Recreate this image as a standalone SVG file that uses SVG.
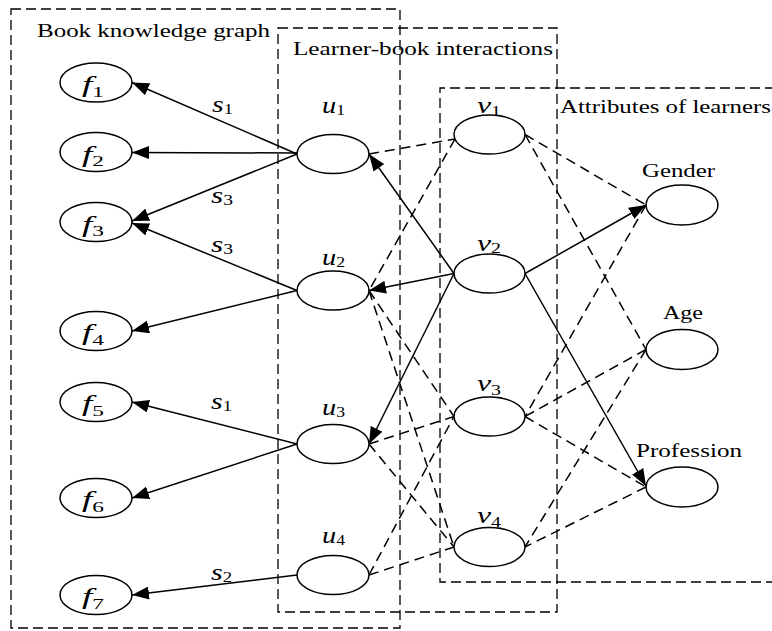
<svg xmlns="http://www.w3.org/2000/svg" width="772" height="631" viewBox="0 0 772 631">
<defs>
<marker id="ah" markerUnits="userSpaceOnUse" markerWidth="17" markerHeight="13" viewBox="0 0 17 13" refX="17" refY="6.5" orient="auto">
<path d="M0,0 L17,6.5 L0,13 z" fill="#000"/>
</marker>
<style>
.box{fill:none;stroke:#000;stroke-width:1.3;stroke-dasharray:10 5}
.node ellipse{fill:#fff;stroke:#000;stroke-width:1.5}
.e{fill:none;stroke:#000;stroke-width:1.5}
.s{marker-end:url(#ah)}
.d{stroke-dasharray:10 6}
.t{font-family:"Liberation Serif","Times New Roman",serif;font-size:19px;fill:#000}
.i{font-family:"Liberation Serif","Times New Roman",serif;font-style:italic;font-size:24px;fill:#000}
.sub{font-style:normal;font-size:15px}
</style>
</defs>
<rect width="772" height="631" fill="#fff"/>

<g id="containers">
<rect class="box" x="11" y="9" width="389" height="619"/>
<rect class="box" x="278" y="28" width="279" height="584"/>
<path class="box" d="M790,88 H440 V582 H790"/>
<text class="t" x="37" y="37" textLength="233" lengthAdjust="spacingAndGlyphs">Book knowledge graph</text>
<text class="t" x="293" y="55" textLength="260" lengthAdjust="spacingAndGlyphs">Learner-book interactions</text>
<text class="t" x="560" y="113" textLength="211" lengthAdjust="spacingAndGlyphs">Attributes of learners</text>
</g>

<g id="connectors">
<line class="e s" x1="297" y1="154" x2="132" y2="82.5"/>
<line class="e s" x1="297" y1="153" x2="132" y2="152.5"/>
<line class="e s" x1="297" y1="154" x2="132" y2="221"/>
<line class="e s" x1="297" y1="290.5" x2="132" y2="223"/>
<line class="e s" x1="297" y1="290.5" x2="132" y2="331"/>
<line class="e s" x1="297" y1="444" x2="132" y2="402"/>
<line class="e s" x1="297" y1="444" x2="132" y2="498"/>
<line class="e s" x1="297" y1="575" x2="132" y2="595"/>
<line class="e s" x1="454" y1="273.5" x2="369" y2="154"/>
<line class="e s" x1="454" y1="273.5" x2="369" y2="290.5"/>
<line class="e s" x1="454" y1="273.5" x2="369" y2="444"/>
<line class="e s" x1="525" y1="273.5" x2="646" y2="205"/>
<line class="e s" x1="525" y1="273.5" x2="646" y2="486"/>
<line class="e d" x1="369" y1="154" x2="455" y2="139"/>
<line class="e d" x1="455" y1="139" x2="369" y2="290.5"/>
<line class="e d" x1="369" y1="290.5" x2="454" y2="416.5"/>
<line class="e d" x1="369" y1="290.5" x2="454" y2="547"/>
<line class="e d" x1="369" y1="444" x2="454" y2="416.5"/>
<line class="e d" x1="369" y1="444" x2="454" y2="547"/>
<line class="e d" x1="369" y1="575" x2="454" y2="416.5"/>
<line class="e d" x1="369" y1="575" x2="454" y2="547"/>
<line class="e d" x1="525" y1="134.5" x2="646" y2="205"/>
<line class="e d" x1="525" y1="134.5" x2="646" y2="349.5"/>
<line class="e d" x1="646" y1="205" x2="525" y2="416.5"/>
<line class="e d" x1="646" y1="349.5" x2="525" y2="416.5"/>
<line class="e d" x1="646" y1="349.5" x2="525" y2="547"/>
<line class="e d" x1="525" y1="416.5" x2="646" y2="487"/>
<line class="e d" x1="646" y1="487" x2="525" y2="547"/>
<text class="i" x="212" y="112" textLength="21" lengthAdjust="spacingAndGlyphs">s<tspan class="sub" dy="2">1</tspan></text>
<text class="i" x="211" y="203" textLength="22" lengthAdjust="spacingAndGlyphs">s<tspan class="sub" dy="2">3</tspan></text>
<text class="i" x="211" y="252" textLength="22" lengthAdjust="spacingAndGlyphs">s<tspan class="sub" dy="2">3</tspan></text>
<text class="i" x="211" y="409" textLength="21" lengthAdjust="spacingAndGlyphs">s<tspan class="sub" dy="2">1</tspan></text>
<text class="i" x="211" y="580" textLength="21" lengthAdjust="spacingAndGlyphs">s<tspan class="sub" dy="2">2</tspan></text>
</g>

<g id="f1" class="node"><ellipse cx="96" cy="82.5" rx="36" ry="19.5"/><text class="i" x="82" y="92" textLength="22" lengthAdjust="spacingAndGlyphs">f<tspan class="sub" dy="4.5">1</tspan></text></g>
<g id="f2" class="node"><ellipse cx="96" cy="152" rx="36" ry="19.5"/><text class="i" x="82" y="161.5" textLength="22" lengthAdjust="spacingAndGlyphs">f<tspan class="sub" dy="4.5">2</tspan></text></g>
<g id="f3" class="node"><ellipse cx="96" cy="222" rx="36" ry="19.5"/><text class="i" x="82" y="231.5" textLength="22" lengthAdjust="spacingAndGlyphs">f<tspan class="sub" dy="4.5">3</tspan></text></g>
<g id="f4" class="node"><ellipse cx="96" cy="331" rx="36" ry="19.5"/><text class="i" x="82" y="340" textLength="22" lengthAdjust="spacingAndGlyphs">f<tspan class="sub" dy="4.5">4</tspan></text></g>
<g id="f5" class="node"><ellipse cx="96" cy="402" rx="36" ry="19.5"/><text class="i" x="82" y="411" textLength="22" lengthAdjust="spacingAndGlyphs">f<tspan class="sub" dy="4.5">5</tspan></text></g>
<g id="f6" class="node"><ellipse cx="96" cy="498" rx="36" ry="19.5"/><text class="i" x="82" y="507" textLength="22" lengthAdjust="spacingAndGlyphs">f<tspan class="sub" dy="4.5">6</tspan></text></g>
<g id="f7" class="node"><ellipse cx="96" cy="595" rx="36" ry="19.5"/><text class="i" x="82" y="604" textLength="22" lengthAdjust="spacingAndGlyphs">f<tspan class="sub" dy="4.5">7</tspan></text></g>

<g id="u1" class="node"><ellipse cx="333" cy="154" rx="36" ry="19.5"/><text class="i" x="322" y="113" textLength="23" lengthAdjust="spacingAndGlyphs">u<tspan class="sub" dy="2">1</tspan></text></g>
<g id="u2" class="node"><ellipse cx="333" cy="290.5" rx="36" ry="19.5"/><text class="i" x="322" y="265" textLength="23" lengthAdjust="spacingAndGlyphs">u<tspan class="sub" dy="2">2</tspan></text></g>
<g id="u3" class="node"><ellipse cx="333" cy="444" rx="36" ry="19.5"/><text class="i" x="322" y="415" textLength="23" lengthAdjust="spacingAndGlyphs">u<tspan class="sub" dy="2">3</tspan></text></g>
<g id="u4" class="node"><ellipse cx="333" cy="575" rx="36" ry="19.5"/><text class="i" x="322" y="543" textLength="23" lengthAdjust="spacingAndGlyphs">u<tspan class="sub" dy="2">4</tspan></text></g>

<g id="v1" class="node"><ellipse cx="489.5" cy="134.5" rx="35.5" ry="19.5"/><text class="i" x="477" y="113" textLength="24" lengthAdjust="spacingAndGlyphs">v<tspan class="sub" dy="3">1</tspan></text></g>
<g id="v2" class="node"><ellipse cx="489.5" cy="273.5" rx="35.5" ry="19.5"/><text class="i" x="477" y="251" textLength="24" lengthAdjust="spacingAndGlyphs">v<tspan class="sub" dy="2">2</tspan></text></g>
<g id="v3" class="node"><ellipse cx="489.5" cy="416.5" rx="35.5" ry="19.5"/><text class="i" x="477" y="391" textLength="24" lengthAdjust="spacingAndGlyphs">v<tspan class="sub" dy="4">3</tspan></text></g>
<g id="v4" class="node"><ellipse cx="489.5" cy="547" rx="35.5" ry="19.5"/><text class="i" x="477" y="523" textLength="24" lengthAdjust="spacingAndGlyphs">v<tspan class="sub" dy="4">4</tspan></text></g>

<g id="gender" class="node"><ellipse cx="682" cy="205" rx="36" ry="20"/><text class="t" x="642" y="177" textLength="73" lengthAdjust="spacingAndGlyphs">Gender</text></g>
<g id="age" class="node"><ellipse cx="682" cy="349.5" rx="36" ry="20"/><text class="t" x="663" y="319" textLength="40" lengthAdjust="spacingAndGlyphs">Age</text></g>
<g id="profession" class="node"><ellipse cx="682" cy="487" rx="36" ry="20"/><text class="t" x="636" y="457" textLength="106" lengthAdjust="spacingAndGlyphs">Profession</text></g>
</svg>
